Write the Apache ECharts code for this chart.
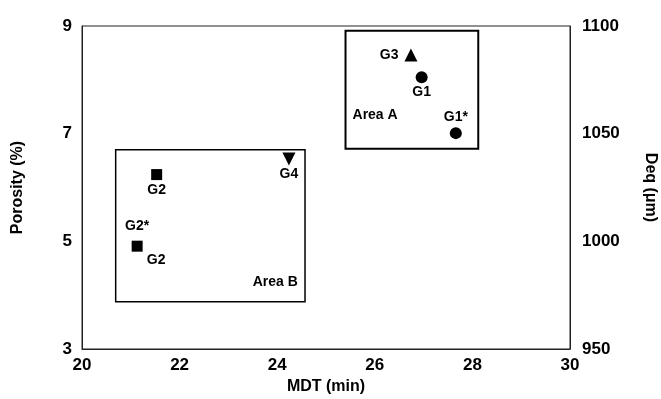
<!DOCTYPE html>
<html>
<head>
<meta charset="utf-8">
<script src="https://cdn.jsdelivr.net/npm/echarts@6/dist/echarts.min.js"></script>
<style>
  html, body { margin: 0; padding: 0; background: #fff; }
  #chart { width: 661px; height: 399px; }
</style>
</head>
<body>
<div id="chart"></div>
<script>
// Mean drying time (min) vs porosity (%) for the granule groups
const xTicks = [20, 22, 24, 26, 28, 30];
const porosityTicks = [3, 5, 7, 9];
const deqTicks = [950, 1000, 1050, 1100];

const g1 = [[26.96, 8.05, 'G1'], [27.66, 7.01, 'G1*']];
const g2 = [[21.53, 6.24, 'G2'], [21.13, 4.91, 'G2*']];
const g3 = [[26.74, 8.46, 'G3']];
const g4 = [[24.24, 6.53, 'G4']];

// Enclosing regions: [MDT, porosity] corners
const areaA = [[25.40, 8.91], [28.12, 6.72]];
const areaB = [[20.69, 6.70], [24.57, 3.88]];

const FONT = 'Liberation Sans, Arial, sans-serif';

// where each group label sits relative to its marker
const labelPlacement = {
  'G1':  { position: 'bottom', distance: 2 },
  'G1*': { position: 'top', distance: 3 },
  'G2':  { position: 'bottom', distance: 3 },
  'G2*': { position: 'top', distance: 8 },
  'G3':  { position: 'left', distance: 6 },
  'G4':  { position: 'bottom', distance: 2 }
};

const labelStyle = { color: '#000', opacity: 1, fontFamily: FONT, fontWeight: 'bold', fontSize: 14 };

function items(rows) {
  return rows.map(r => ({
    value: [r[0], r[1]],
    name: r[2],
    label: Object.assign({ show: true, formatter: r[2] }, labelStyle, labelPlacement[r[2]])
  }));
}

function box(corners, text, labelPos, offset, width) {
  return {
    silent: true,
    itemStyle: { color: 'rgba(0,0,0,0)', borderColor: '#000', borderWidth: width, opacity: 1 },
    label: Object.assign({ show: true, position: labelPos, offset: offset, distance: 8 }, labelStyle),
    data: [[
      { coord: corners[0], name: text },
      { coord: corners[1] }
    ]]
  };
}

const axisLabelStyle = { color: '#000', fontFamily: FONT, fontWeight: 'bold', fontSize: 17 };
const axisNameStyle = { color: '#000', fontFamily: FONT, fontWeight: 'bold', fontSize: 16 };
const markerStyle = { color: '#000', opacity: 1 };

const chart = echarts.init(document.getElementById('chart'));
chart.setOption({
  backgroundColor: '#fff',
  animation: false,
  grid: {
    left: 82, right: 91, top: 26, bottom: 50, outerBoundsMode: 'none',
    show: true, borderColor: '#222', borderWidth: 1
  },
  xAxis: {
    type: 'value', min: xTicks[0], max: xTicks[xTicks.length - 1], interval: 2,
    name: 'MDT (min)', nameLocation: 'middle', nameGap: 29, nameTextStyle: axisNameStyle,
    axisLine: { show: true, lineStyle: { color: '#222' } },
    axisTick: { show: false }, splitLine: { show: false },
    axisLabel: Object.assign({ margin: 8 }, axisLabelStyle)
  },
  yAxis: [{
    type: 'value', min: porosityTicks[0], max: porosityTicks[porosityTicks.length - 1], interval: 2,
    name: 'Porosity (%)', nameLocation: 'middle', nameGap: 56, nameRotate: 90, nameTextStyle: axisNameStyle,
    axisLine: { show: true, lineStyle: { color: '#222' } },
    axisTick: { show: false }, splitLine: { show: false },
    axisLabel: Object.assign({ margin: 10 }, axisLabelStyle)
  }, {
    type: 'value', position: 'right', min: deqTicks[0], max: deqTicks[deqTicks.length - 1], interval: 50,
    name: 'Deq (μm)', nameLocation: 'middle', nameGap: 72, nameRotate: -90, nameTextStyle: axisNameStyle,
    axisLine: { show: true, lineStyle: { color: '#222' } },
    axisTick: { show: false }, splitLine: { show: false },
    axisLabel: Object.assign({ margin: 12, formatter: v => String(v) }, axisLabelStyle)
  }],
  series: [
    {
      name: 'G1', type: 'scatter', symbol: 'circle', symbolSize: 12,
      itemStyle: markerStyle, data: items(g1),
      markArea: box(areaA, 'Area A', 'insideLeft', [0, 25], 2)
    },
    {
      name: 'G2', type: 'scatter', symbol: 'rect', symbolSize: 11,
      itemStyle: markerStyle, data: items(g2),
      markArea: box(areaB, 'Area B', 'insideBottomRight', [0, -5], 1.5)
    },
    {
      // second group tag under the G2* granule
      name: 'G2 tag', type: 'scatter', symbolSize: 0, silent: true,
      itemStyle: markerStyle,
      data: [{ value: [g2[1][0], g2[1][1]], label: Object.assign({ show: true, formatter: 'G2', position: 'bottom', distance: 7, offset: [19, 0] }, labelStyle) }]
    },
    {
      name: 'G3', type: 'scatter', symbol: 'triangle', symbolSize: 13,
      itemStyle: markerStyle, data: items(g3)
    },
    {
      name: 'G4', type: 'scatter', symbol: 'triangle', symbolRotate: 180, symbolSize: 13,
      itemStyle: markerStyle, data: items(g4)
    }
  ]
});
</script>
</body>
</html>
